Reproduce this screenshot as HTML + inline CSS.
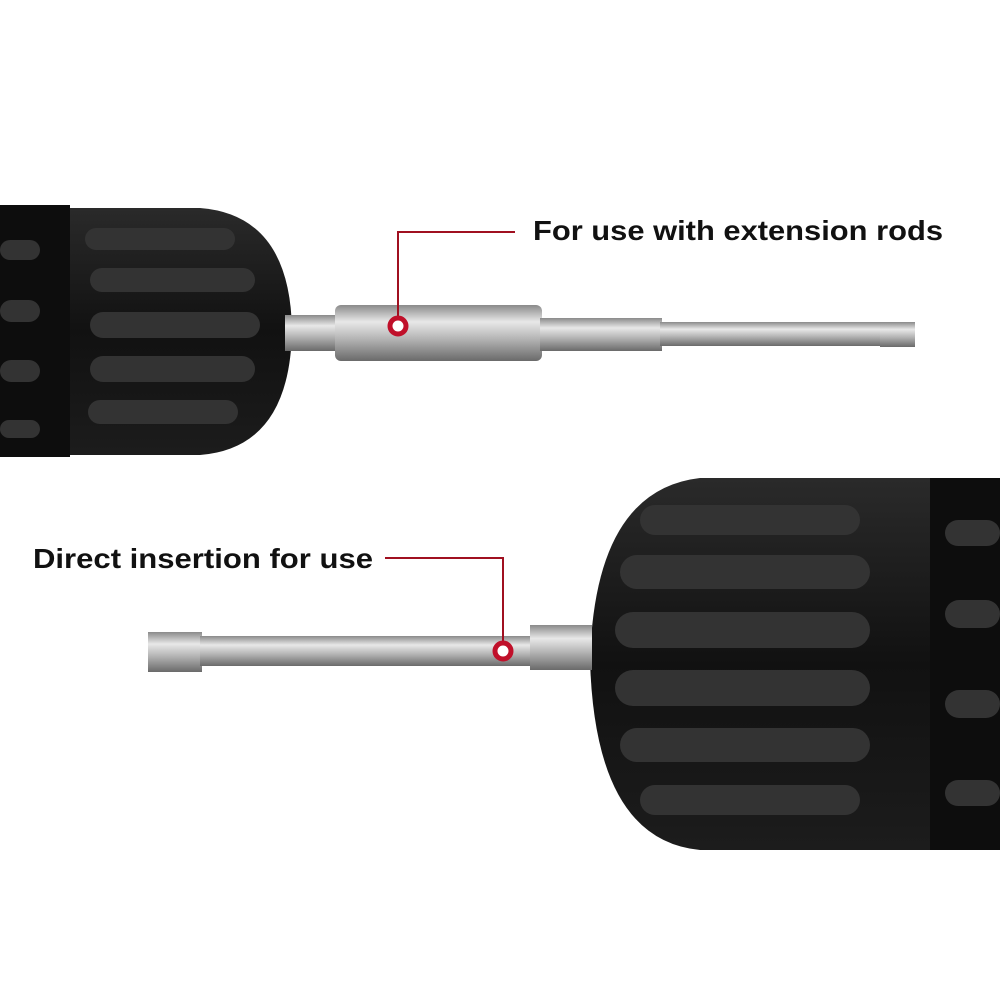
<!DOCTYPE html>
<html><head><meta charset="utf-8"><style>
html,body{margin:0;padding:0;background:#fff;}
svg{display:block}
text{font-family:"Liberation Sans",sans-serif;font-weight:bold;fill:#111}
</style></head><body>
<svg width="1000" height="1000" viewBox="0 0 1000 1000" xmlns="http://www.w3.org/2000/svg">
<defs>
<linearGradient id="metal" x1="0" y1="0" x2="0" y2="1">
<stop offset="0" stop-color="#8a8a8a"/><stop offset="0.3" stop-color="#e8e8e8"/><stop offset="0.6" stop-color="#b5b5b5"/><stop offset="1" stop-color="#6a6a6a"/>
</linearGradient>
<linearGradient id="blk" x1="0" y1="0" x2="0" y2="1">
<stop offset="0" stop-color="#2a2a2a"/><stop offset="0.5" stop-color="#111"/><stop offset="1" stop-color="#1c1c1c"/>
</linearGradient>
</defs>
<path d="M0 208 L200 208 Q290 215 292 330 Q290 448 200 455 L0 455 Z" fill="url(#blk)"/>
<rect x="0" y="205" width="70" height="252" fill="#0d0d0d"/>
<g fill="#333">
<rect x="85" y="228" width="150" height="22" rx="11"/>
<rect x="90" y="268" width="165" height="24" rx="12"/>
<rect x="90" y="312" width="170" height="26" rx="13"/>
<rect x="90" y="356" width="165" height="26" rx="13"/>
<rect x="88" y="400" width="150" height="24" rx="12"/>
<rect x="0" y="240" width="40" height="20" rx="10"/>
<rect x="0" y="300" width="40" height="22" rx="11"/>
<rect x="0" y="360" width="40" height="22" rx="11"/>
<rect x="0" y="420" width="40" height="18" rx="9"/>
</g>
<rect x="285" y="315" width="52" height="36" fill="url(#metal)"/>
<rect x="335" y="305" width="207" height="56" rx="6" fill="url(#metal)"/>
<rect x="540" y="318" width="122" height="33" fill="url(#metal)"/>
<rect x="660" y="322" width="222" height="24" fill="url(#metal)"/>
<rect x="880" y="322" width="35" height="25" fill="url(#metal)"/>
<polyline points="398,326 398,232 515,232" fill="none" stroke="#a01020" stroke-width="2"/>
<circle cx="398" cy="326" r="8" fill="#fff" stroke="#c0102a" stroke-width="5"/>
<text x="533" y="240" font-size="28" textLength="410" lengthAdjust="spacingAndGlyphs">For use with extension rods</text>
<path d="M1000 478 L700 478 Q595 490 590 660 Q595 840 700 850 L1000 850 Z" fill="url(#blk)"/>
<rect x="930" y="478" width="70" height="372" fill="#0d0d0d"/>
<g fill="#333">
<rect x="640" y="505" width="220" height="30" rx="15"/>
<rect x="620" y="555" width="250" height="34" rx="17"/>
<rect x="615" y="612" width="255" height="36" rx="18"/>
<rect x="615" y="670" width="255" height="36" rx="18"/>
<rect x="620" y="728" width="250" height="34" rx="17"/>
<rect x="640" y="785" width="220" height="30" rx="15"/>
<rect x="945" y="520" width="55" height="26" rx="13"/>
<rect x="945" y="600" width="55" height="28" rx="14"/>
<rect x="945" y="690" width="55" height="28" rx="14"/>
<rect x="945" y="780" width="55" height="26" rx="13"/>
</g>
<rect x="148" y="632" width="54" height="40" fill="url(#metal)"/>
<rect x="200" y="636" width="332" height="30" fill="url(#metal)"/>
<rect x="530" y="625" width="62" height="45" fill="url(#metal)"/>
<polyline points="503,651 503,558 385,558" fill="none" stroke="#a01020" stroke-width="2"/>
<circle cx="503" cy="651" r="8" fill="#fff" stroke="#c0102a" stroke-width="5"/>
<text x="33" y="568" font-size="28" textLength="340" lengthAdjust="spacingAndGlyphs">Direct insertion for use</text>
</svg>
</body></html>
